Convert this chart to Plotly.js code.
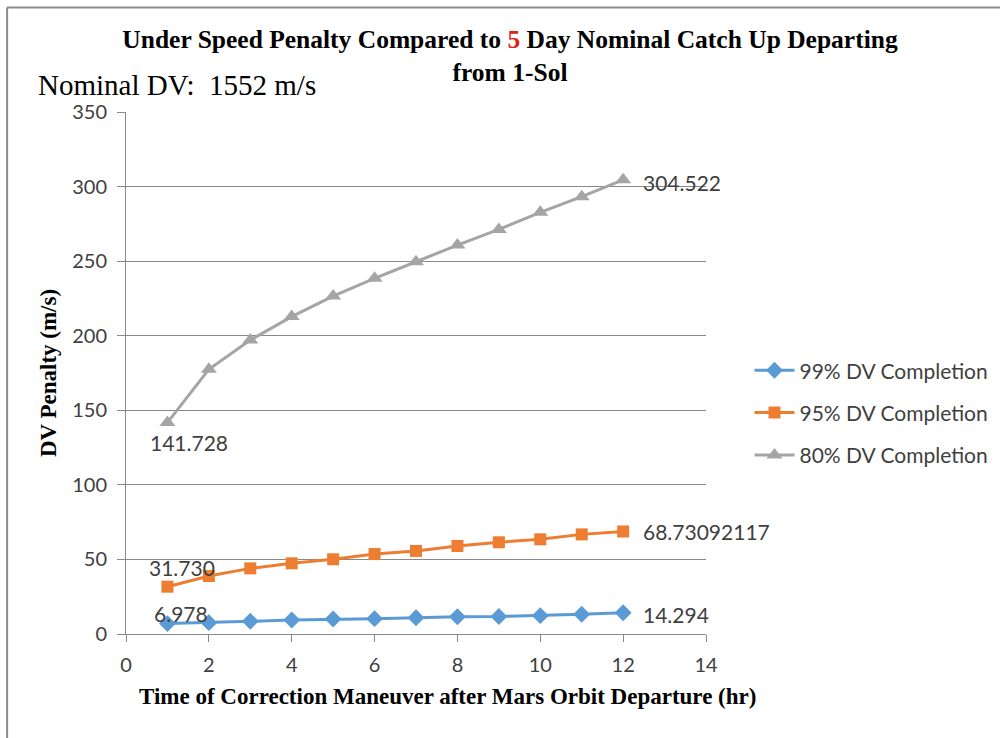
<!DOCTYPE html>
<html>
<head>
<meta charset="utf-8">
<script src="https://cdn.plot.ly/plotly-3.0.1.min.js"></script>
<style>html,body{margin:0;padding:0;background:#fff;}#chart{width:1000px;height:738px;}</style>
</head>
<body>
<div id="chart"></div>
<script>
const hours = [1,2,3,4,5,6,7,8,9,10,11,12];
const pen99 = [6.978,7.6,8.5,9.4,10.1,10.3,10.9,11.6,11.7,12.3,13.2,14.294];
const pen95 = [31.730,38.9,44.0,47.4,50.1,53.6,55.7,59.0,61.5,63.5,66.8,68.73092117];
const pen80 = [141.728,177.5,197.1,212.8,226.6,238.5,249.6,260.8,271.3,282.7,293.2,304.522];
const names = ['99% DV Completion','95% DV Completion','80% DV Completion'];
const firstLabels = ['6.978','31.730','141.728'];
const lastLabels = ['14.294','68.73092117','304.522'];
const xTicks = [0,2,4,6,8,10,12,14];
const yTicks = [0,50,100,150,200,250,300,350];

const tickFont = {family:'Lato, "Open Sans", sans-serif', size:20, color:'#404040'};
const labelFont = {family:'Lato, "Open Sans", sans-serif', size:21, color:'#404040'};
const serifBold = 'Liberation Serif, "Times New Roman", serif';

const series = [pen99, pen95, pen80];
const colors = ['#5B9BD5','#ED7D31','#A5A5A5'];
const symbols = ['diamond','square','triangle-up'];
const sizes = [13,12,14];

const traces = series.map((s,i)=>({
  x:hours,y:s,name:names[i],legendgroup:'g'+i,mode:'lines+markers',
  line:{color:colors[i],width:3},marker:{symbol:symbols[i],size:sizes[i],color:colors[i]},cliponaxis:false
}));

// label offsets (pixels) relative to the data point
const firstShift = [[14,10],[15,19],[22,-20]];
const lastShift = [[18,-2],[18,0],[18,-3]];
const labelAnns = [];
series.forEach((s,i)=>{
  labelAnns.push({x:hours[0],y:s[0],xref:'x',yref:'y',text:firstLabels[i],showarrow:false,xanchor:'center',yanchor:'middle',
    xshift:firstShift[i][0],yshift:firstShift[i][1],font:labelFont});
  labelAnns.push({x:hours[hours.length-1],y:s[s.length-1],xref:'x',yref:'y',text:lastLabels[i],showarrow:false,xanchor:'left',yanchor:'middle',
    xshift:lastShift[i][0],yshift:lastShift[i][1],font:labelFont});
});

const layout = {
  width:1000,height:738,
  margin:{l:126,r:294,t:112,b:104,autoexpand:false},
  paper_bgcolor:'#fff',plot_bgcolor:'#fff',
  showlegend:true,
  legend:{x:1.075,xanchor:'left',y:0.424,yanchor:'middle',font:labelFont,traceorder:'grouped',tracegroupgap:12,itemwidth:40,bgcolor:'rgba(0,0,0,0)'},
  title:{text:'Under Speed Penalty Compared to <span style="color:#E0201B">5</span> Day Nominal Catch Up Departing<br>from 1-Sol',
    font:{family:serifBold,size:25.5,color:'#000',weight:'bold'},xref:'container',x:0.51,xanchor:'center',yref:'container',y:0.935,yanchor:'top'},
  xaxis:{range:[0,14],tickvals:xTicks,ticktext:xTicks.map(String),showgrid:false,zeroline:false,showline:true,linecolor:'#898989',linewidth:1,
    ticks:'outside',ticklen:7,tickcolor:'#898989',tickfont:tickFont,ticklabelstandoff:6,fixedrange:true},
  yaxis:{range:[0,350],tickvals:yTicks,ticktext:yTicks.map(String),showgrid:true,gridcolor:'#898989',gridwidth:1,zeroline:false,showline:true,linecolor:'#898989',linewidth:1,
    ticks:'outside',ticklen:8,tickcolor:'#898989',tickfont:tickFont,ticklabelstandoff:6,
    title:{text:'<b>DV Penalty (m/s)</b>',font:{family:serifBold,size:23,color:'#000'},standoff:9},fixedrange:true},
  annotations:[
    {text:'Nominal DV:  1552 m/s',xref:'paper',yref:'paper',x:-0.155,y:1.052,xanchor:'left',yanchor:'middle',showarrow:false,
      font:{family:'Liberation Serif, "Times New Roman", serif',size:29,color:'#000'}},
    {text:'<b>Time of Correction Maneuver after Mars Orbit Departure (hr)</b>',xref:'paper',yref:'paper',x:0.555,y:-0.12,xanchor:'center',yanchor:'middle',showarrow:false,
      font:{family:serifBold,size:23,color:'#000'}}
  ].concat(labelAnns),
  shapes:[
    {type:'line',xref:'paper',yref:'paper',x0:-0.205,x1:1.52,y0:1.2,y1:1.2,line:{color:'#8c8c8c',width:2}},
    {type:'line',xref:'paper',yref:'paper',x0:-0.205,x1:-0.205,y0:1.2,y1:-0.2,line:{color:'#8c8c8c',width:2}}
  ]
};
Plotly.newPlot('chart',traces,layout,{displayModeBar:false,staticPlot:true});
</script>
</body>
</html>
